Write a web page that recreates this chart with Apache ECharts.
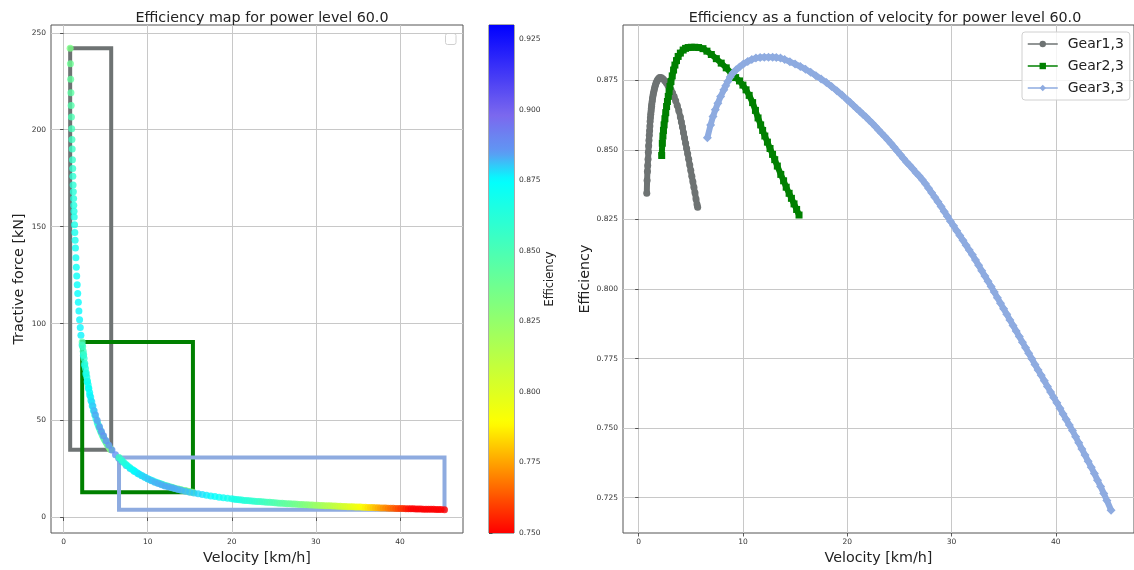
<!DOCTYPE html>
<html><head><meta charset="utf-8">
<script src="https://cdn.jsdelivr.net/npm/echarts@6/dist/echarts.min.js"></script>
<style>html,body{margin:0;padding:0;background:#fff}#c{width:1134px;height:570px}</style>
</head><body><div id="c"></div>
<script>
// ---------------- DATA ----------------
const seriesNames = ['Gear1,3', 'Gear2,3', 'Gear3,3'];

const g1Vel = [0.78,0.81,0.84,0.87,0.90,0.93,0.96,0.99,1.02,1.05,1.08,1.10,1.13,1.16,1.19,1.21,1.24,1.26,1.30,1.33,1.37,1.41,1.46,1.51,1.56,1.62,1.68,1.75,1.82,1.90,1.98,2.06,
  2.20,2.35,2.50,2.65,2.80,2.95,3.10,3.25,3.40,3.55,3.70,3.85,4.00,4.10,4.20,4.30,4.40,4.50,4.60,4.70,4.80,4.90,5.00,5.10,5.20,5.30,5.40,5.50,5.60,5.66];
const g1Eff = [0.8344,0.8390,0.8422,0.8444,0.8466,0.8492,0.8515,0.8535,0.8553,0.8569,0.8586,0.8602,0.8616,0.8628,0.8638,0.8648,0.8657,0.8665,0.8675,0.8685,0.8694,0.8702,0.8711,0.8719,0.8727,0.8734,0.8741,0.8747,0.8752,0.8756,0.8759,0.8760,
  0.8759,0.8755,0.8749,0.8741,0.8732,0.8725,0.8716,0.8705,0.8692,0.8677,0.8660,0.8641,0.8618,0.8600,0.8582,0.8562,0.8543,0.8524,0.8505,0.8486,0.8466,0.8446,0.8426,0.8405,0.8386,0.8366,0.8346,0.8324,0.8304,0.8294];
const g1Force = [242,234,226,219,212.5,206.5,200.5,195,190,184.5,180,176,171.5,168,164.5,161,158,155,151,147,143,139,134,129,124.5,120,115.5,111,106.5,102,98,94,
  89,83.5,78.5,74,70,66.5,63.2,60.3,57.6,55.2,53,50.9,49,47.8,46.7,45.6,44.5,43.6,42.6,41.7,40.8,40.0,39.2,38.4,37.7,37.0,36.3,35.6,35.1,34.9];

const g2Vel = [2.21,2.27,2.33,2.38,2.44,2.52,2.60,2.68,2.76,2.84,2.92,3.00,3.10,3.22,3.35,3.48,3.63,3.79,4.00,4.27,4.50,4.75,5.05,5.38,5.75,6.17,6.55,6.97,7.45,7.92,8.40,8.87,9.30,9.67,
  10.00,10.30,10.60,10.93,11.20,11.45,11.70,11.89,12.10,12.35,12.60,12.84,13.05,13.30,13.63,13.90,14.15,14.43,14.65,14.90,15.15,15.38];
const g2Eff = [0.8480,0.8524,0.8550,0.8570,0.8590,0.8612,0.8634,0.8656,0.8674,0.8692,0.8710,0.8728,0.8746,0.8766,0.8787,0.8805,0.8821,0.8836,0.8848,0.8859,0.8865,0.8868,0.8869,0.8869,0.8868,0.8864,0.8855,0.8843,0.8828,0.8812,0.8795,0.8776,0.8760,0.8748,
  0.8733,0.8716,0.8696,0.8670,0.8642,0.8615,0.8590,0.8570,0.8550,0.8528,0.8505,0.8484,0.8465,0.8442,0.8412,0.8389,0.8366,0.8344,0.8326,0.8306,0.8286,0.8266];
const g2Force = [90.5,88.1,85.8,84.0,82.0,79.4,76.9,74.6,72.5,70.4,68.5,66.7,64.5,62.1,59.7,57.5,55.1,52.8,50.0,46.8,44.4,42.1,39.6,37.2,34.8,32.4,30.5,28.7,26.8,25.3,23.8,22.5,21.5,20.7,
  20.0,19.4,18.9,18.3,17.9,17.5,17.1,16.8,16.5,16.2,15.9,15.6,15.3,15.0,14.7,14.4,14.1,13.9,13.7,13.4,13.2,13.0];

const g3Vel = [6.59,6.9,7.13,7.35,7.6,7.86,8.17,8.35,8.55,8.78,9.03,9.35,9.67,10.05,10.46,10.85,11.25,11.65,12.05,12.45,12.85,13.2,13.6,
  14.0,14.5,15.0,15.5,16.0,16.5,17.0,17.5,18.0,18.5,19.0,19.5,20.0,
  20.3,20.6,20.9,21.2,21.5,21.8,22.1,22.4,22.7,23.0,23.3,23.6,23.9,24.2,24.5,24.8,25.1,25.4,25.7,26.0,26.3,26.6,26.9,27.2,27.5,27.8,28.1,28.4,28.7,
  29.0,29.3,29.6,29.9,30.2,30.5,30.8,31.1,31.4,31.7,32.0,32.3,32.6,32.9,33.2,33.5,33.8,34.1,34.4,34.7,35.0,35.3,35.6,35.9,36.2,36.5,36.8,37.1,37.4,37.7,
  38.0,38.3,38.6,38.9,39.2,39.5,39.8,40.1,40.4,40.7,41.0,41.3,41.6,41.9,42.2,42.5,42.8,43.1,43.4,43.7,44.0,44.3,44.6,44.9,45.3];
const g3Eff = [0.8544,0.8590,0.8620,0.8644,0.8668,0.8692,0.8716,0.8731,0.8746,0.8762,0.8776,0.8788,0.8798,0.8809,0.8818,0.8825,0.8830,0.8832,0.8833,0.8833,0.8833,0.8832,0.8830,
  0.8825,0.8817,0.8809,0.8800,0.8790,0.8779,0.8767,0.8755,0.8742,0.8728,0.8713,0.8697,0.8680,
  0.8670,0.8660,0.8649,0.8639,0.8628,0.8618,0.8607,0.8596,0.8584,0.8572,0.8560,0.8548,0.8536,0.8523,0.8510,0.8496,0.8483,0.8469,0.8456,0.8444,0.8431,0.8418,0.8406,0.8393,0.8378,0.8362,0.8346,0.8330,0.8314,
  0.8297,0.8279,0.8262,0.8244,0.8227,0.8209,0.8192,0.8175,0.8157,0.8140,0.8123,0.8104,0.8085,0.8066,0.8047,0.8028,0.8009,0.7989,0.7969,0.7949,0.7929,0.7909,0.7889,0.7869,0.7849,0.7829,0.7809,0.7789,0.7769,0.7749,
  0.7729,0.7709,0.7690,0.7670,0.7650,0.7630,0.7610,0.7591,0.7571,0.7551,0.7531,0.7511,0.7491,0.7469,0.7447,0.7425,0.7403,0.7381,0.7359,0.7337,0.7313,0.7290,0.7265,0.7240,0.7205];
const g3Force = [31.0,29.5,28.5,27.6,26.7,25.8,24.8,24.2,23.6,23.0,22.3,21.5,20.8,19.8,19.0,18.2,17.5,16.9,16.3,15.8,15.3,14.9,14.4,
  14.0,13.5,13.0,12.6,12.2,11.8,11.5,11.1,10.8,10.5,10.2,9.9,9.6,
  9.4,9.3,9.1,9.0,8.8,8.7,8.6,8.5,8.4,8.3,8.2,8.1,8.0,7.9,7.8,7.7,7.6,7.5,7.4,7.3,7.2,7.1,7.05,7.0,6.9,6.8,6.75,6.7,6.6,
  6.55,6.5,6.4,6.35,6.3,6.2,6.15,6.1,6.05,6.0,5.95,5.9,5.8,5.75,5.7,5.65,5.6,5.55,5.5,5.45,5.4,5.35,5.3,5.25,5.2,5.15,5.1,5.05,5.0,4.95,
  4.9,4.85,4.8,4.8,4.75,4.7,4.65,4.65,4.6,4.55,4.5,4.5,4.45,4.4,4.4,4.35,4.3,4.3,4.25,4.2,4.2,4.15,4.1,4.1,4.0];

const xTicks = [0, 10, 20, 30, 40];
const forceTicks = [0, 50, 100, 150, 200, 250];
const effTicks = [0.725, 0.75, 0.775, 0.8, 0.825, 0.85, 0.875];
const cbarTicks = [0.75, 0.775, 0.8, 0.825, 0.85, 0.875, 0.9, 0.925];
const effMin = 0.75, effMax = 0.93;

// ---------------- STYLE ----------------
const gearColors = ['#6e7373', '#008000', '#8eabe0'];
const gearSymbols = ['circle', 'rect', 'diamond'];
const gearSymbolSizes = [7, 7, 9];
const cmapPos = [0.75, 0.789, 0.875, 0.885, 0.898, 0.93];
const cmapCol = ['#ff0000', '#ffff00', '#00ffff', '#5f98f3', '#7b68ee', '#0000ff'];
const FONT = 'DejaVu Sans';
const tickColor = '#333';
const gridColor = '#c8c8c8';
const frameColor = '#555';

function hex2rgb(h) { return [parseInt(h.slice(1,3),16), parseInt(h.slice(3,5),16), parseInt(h.slice(5,7),16)]; }
function cmap(v) {
  if (v <= cmapPos[0]) return cmapCol[0];
  for (let i = 1; i < cmapPos.length; i++) {
    if (v <= cmapPos[i]) {
      const t = (v - cmapPos[i-1]) / (cmapPos[i] - cmapPos[i-1]);
      const a = hex2rgb(cmapCol[i-1]), b = hex2rgb(cmapCol[i]);
      const c = a.map((x, k) => Math.round(x + (b[k] - x) * t));
      return 'rgb(' + c.join(',') + ')';
    }
  }
  return cmapCol[cmapCol.length - 1];
}
const nC = 91;
const cmapList = [];
for (let i = 0; i < nC; i++) cmapList.push(cmap(effMin + (effMax - effMin) * i / (nC - 1)));
const cbarStops = cmapList.map((c, i) => ({ offset: 1 - i / (nC - 1), color: c })).reverse();

const gears = [
  { vel: g1Vel, eff: g1Eff, force: g1Force },
  { vel: g2Vel, eff: g2Eff, force: g2Force },
  { vel: g3Vel, eff: g3Eff, force: g3Force }
];

function boxData(g) {
  const x0 = Math.min(...g.vel), x1 = Math.max(...g.vel);
  const y0 = Math.min(...g.force), y1 = Math.max(...g.force);
  return [[x0, y0], [x1, y0], [x1, y1], [x0, y1], [x0, y0]];
}

function valueAxis(grid, min, max, ticks, fmt, extra) {
  return Object.assign({
    type: 'value', gridIndex: grid, min: min, max: max,
    axisLine: { show: false },
    axisTick: { show: true, customValues: ticks, length: 3.5, lineStyle: { color: tickColor, width: 0.8 } },
    axisLabel: { customValues: ticks, fontSize: 7.5, color: '#333', margin: 5, fontFamily: FONT, formatter: fmt },
    splitLine: { show: true, lineStyle: { color: gridColor, width: 1 } }
  }, extra || {});
}
const nameStyle = { fontSize: 14.3, color: '#222', fontFamily: FONT };

const series = [];
// bounding boxes (left)
gears.forEach((g, i) => {
  series.push({
    type: 'line', xAxisIndex: 0, yAxisIndex: 0, data: boxData(g), symbol: 'none', silent: true,
    lineStyle: { color: gearColors[i], width: 4, cap: 'square', join: 'miter' }, z: 2
  });
});
// efficiency-coloured scatter (left)
gears.forEach((g, i) => {
  series.push({
    type: 'scatter', xAxisIndex: 0, yAxisIndex: 0, symbolSize: 7, silent: true, z: 3,
    data: g.vel.map((v, k) => [v, g.force[k], g.eff[k]])
  });
});
// colorbar
series.push({
  type: 'custom', xAxisIndex: 1, yAxisIndex: 1, silent: true,
  data: [[0, effMin, 1, effMax]],
  renderItem: function (p, api) {
    const a = api.coord([api.value(0), api.value(3)]);
    const b = api.coord([api.value(2), api.value(1)]);
    return { type: 'rect', shape: { x: a[0], y: a[1], width: b[0] - a[0], height: b[1] - a[1] },
      style: { fill: new echarts.graphic.LinearGradient(0, 0, 0, 1, cbarStops) } };
  }
});
// efficiency vs velocity (right)
gears.forEach((g, i) => {
  series.push({
    type: 'line', name: seriesNames[i], xAxisIndex: 2, yAxisIndex: 2,
    data: g.vel.map((v, k) => [v, g.eff[k]]),
    symbol: gearSymbols[i], symbolSize: gearSymbolSizes[i], showAllSymbol: true,
    lineStyle: { color: gearColors[i], width: 6 }, itemStyle: { color: gearColors[i] }, z: 3 + i
  });
});

const option = {
  animation: false,
  textStyle: { fontFamily: FONT },
  title: [
    { text: 'Efficiency map for power level 60.0', left: 257, top: 6, textAlign: 'center',
      textStyle: { fontSize: 14.3, fontWeight: 'normal', color: '#222', fontFamily: FONT } },
    { text: 'Efficiency as a function of velocity for power level 60.0', left: 880, top: 6, textAlign: 'center',
      textStyle: { fontSize: 14.3, fontWeight: 'normal', color: '#222', fontFamily: FONT } }
  ],
  grid: [
    { left: 51, top: 25, width: 412, height: 508, show: true, borderColor: frameColor, borderWidth: 1, backgroundColor: 'transparent' },
    { left: 489, top: 25, width: 25, height: 508, show: true, borderColor: frameColor, borderWidth: 1, backgroundColor: 'transparent' },
    { left: 623, top: 25, width: 515, height: 508, show: true, borderColor: frameColor, borderWidth: 1, backgroundColor: 'transparent' }
  ],
  xAxis: [
    valueAxis(0, -1.5, 47.5, xTicks, v => String(v), { name: 'Velocity [km/h]', nameLocation: 'middle', nameGap: 15, nameTextStyle: nameStyle }),
    { type: 'value', gridIndex: 1, min: 0, max: 1, show: false },
    valueAxis(2, -1.5, 47.5, xTicks, v => String(v), { name: 'Velocity [km/h]', nameLocation: 'middle', nameGap: 15, nameTextStyle: nameStyle })
  ],
  yAxis: [
    valueAxis(0, -8, 254, forceTicks, v => String(v), { name: 'Tractive force [kN]', nameLocation: 'middle', nameRotate: 90, nameGap: 25, nameTextStyle: nameStyle }),
    valueAxis(1, effMin, effMax, cbarTicks, v => v.toFixed(3), { position: 'right', splitLine: { show: false },
      name: 'Efficiency', nameLocation: 'middle', nameRotate: 90, nameGap: 30, nameTextStyle: { fontSize: 11.4, color: '#222', fontFamily: FONT } }),
    valueAxis(2, 0.7123, 0.8949, effTicks, v => v.toFixed(3), { name: 'Efficiency', nameLocation: 'middle', nameRotate: 90, nameGap: 30, nameTextStyle: nameStyle })
  ],
  visualMap: {
    type: 'continuous', show: false, min: effMin, max: effMax, dimension: 2, seriesIndex: [3, 4, 5],
    inRange: { color: cmapList }, outOfRange: { color: [cmapCol[0]] }
  },
  legend: {
    data: seriesNames, orient: 'vertical', left: 1022, top: 32,
    itemWidth: 30, itemHeight: 8, itemGap: 6, padding: [4, 6, 4, 5],
    backgroundColor: 'rgba(255,255,255,0.8)', borderColor: '#d0d0d0', borderWidth: 1, borderRadius: 3,
    textStyle: { fontSize: 14, color: '#222', lineHeight: 16, fontFamily: FONT, padding: [0, 0, 0, 5] },
    lineStyle: { width: 1.5 }
  },
  graphic: [
    { type: 'rect', left: 445, top: 33, shape: { width: 10.5, height: 11, r: 2 }, style: { fill: '#fff', stroke: '#d0d0d0', lineWidth: 1 }, silent: true }
  ],
  series: series
};

const chart = echarts.init(document.getElementById('c'), null, { renderer: 'canvas' });
chart.setOption(option);
</script>
</body></html>
